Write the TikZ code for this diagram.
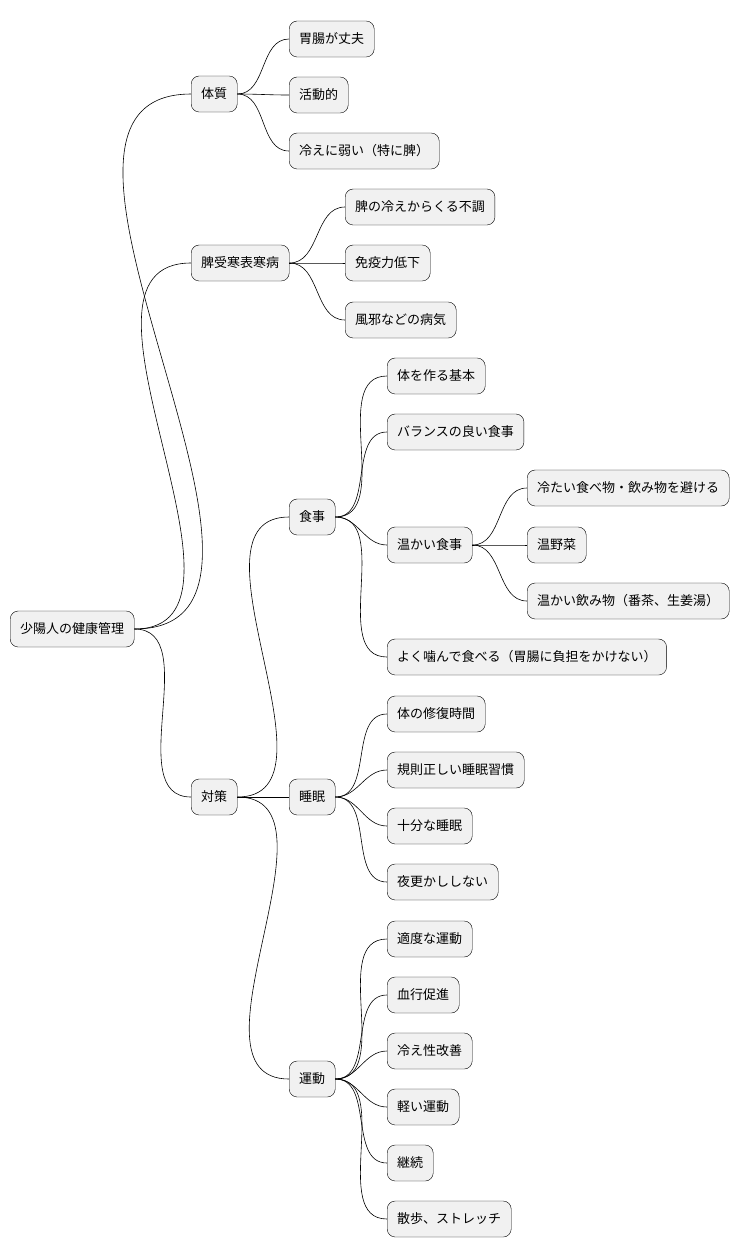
\documentclass[tikz,border=0pt]{standalone}
\usepackage{fontspec}
\setmainfont{Noto Sans CJK JP}
\definecolor{boxfill}{HTML}{F1F1F1}
\tikzset{
  topic/.style={draw=black,fill=boxfill,rounded corners=8pt,anchor=west,
    minimum height=36pt,inner xsep=10pt,font=\fontsize{13}{15}\selectfont},
  branch/.style={draw=black,line width=0.6pt}
}
\begin{document}
\begin{tikzpicture}[x=1pt,y=-1pt]
    \useasboundingbox (0,0) rectangle (754,1259);

    \node[topic] (root) at (10,629) {少陽人の健康管理};

    \node[topic] (taishitsu) at (191,94) {体質};
    \node[topic] (t1) at (289,39) {胃腸が丈夫};
    \node[topic] (t2) at (289,95) {活動的};
    \node[topic] (t3) at (289,151) {冷えに弱い（特に脾）};

    \node[topic] (byo) at (191,263) {脾受寒表寒病};
    \node[topic] (b1) at (345,207) {脾の冷えからくる不調};
    \node[topic] (b2) at (345,263) {免疫力低下};
    \node[topic] (b3) at (345,320) {風邪などの病気};

    \node[topic] (taisaku) at (191,797) {対策};

    \node[topic] (shoku) at (289,517) {食事};
    \node[topic] (s1) at (387,376) {体を作る基本};
    \node[topic] (s2) at (387,432) {バランスの良い食事};
    \node[topic] (s3) at (387,545) {温かい食事};
    \node[topic] (s4) at (387,657) {よく噛んで食べる（胃腸に負担をかけない）};
    \node[topic] (w1) at (527,488) {冷たい食べ物・飲み物を避ける};
    \node[topic] (w2) at (527,545) {温野菜};
    \node[topic] (w3) at (527,601) {温かい飲み物（番茶、生姜湯）};

    \node[topic] (suimin) at (289,797) {睡眠};
    \node[topic] (m1) at (387,714) {体の修復時間};
    \node[topic] (m2) at (387,770) {規則正しい睡眠習慣};
    \node[topic] (m3) at (387,826) {十分な睡眠};
    \node[topic] (m4) at (387,882) {夜更かししない};

    \node[topic] (undo) at (289,1079) {運動};
    \node[topic] (u1) at (387,939) {適度な運動};
    \node[topic] (u2) at (387,995) {血行促進};
    \node[topic] (u3) at (387,1051) {冷え性改善};
    \node[topic] (u4) at (387,1107) {軽い運動};
    \node[topic] (u5) at (387,1163) {継続};
    \node[topic] (u6) at (387,1219) {散歩、ストレッチ};

    % connectors
    \foreach \p/\c in {root/taishitsu,root/byo,root/taisaku,
        taishitsu/t1,taishitsu/t2,taishitsu/t3,
        byo/b1,byo/b2,byo/b3,
        taisaku/shoku,taisaku/suimin,taisaku/undo,
        shoku/s1,shoku/s2,shoku/s3,shoku/s4,
        s3/w1,s3/w2,s3/w3,
        suimin/m1,suimin/m2,suimin/m3,suimin/m4,
        undo/u1,undo/u2,undo/u3,undo/u4,undo/u5,undo/u6}
      \draw[branch] (\p.east) to[out=0,in=180] (\c.west);
\end{tikzpicture}
\end{document}
